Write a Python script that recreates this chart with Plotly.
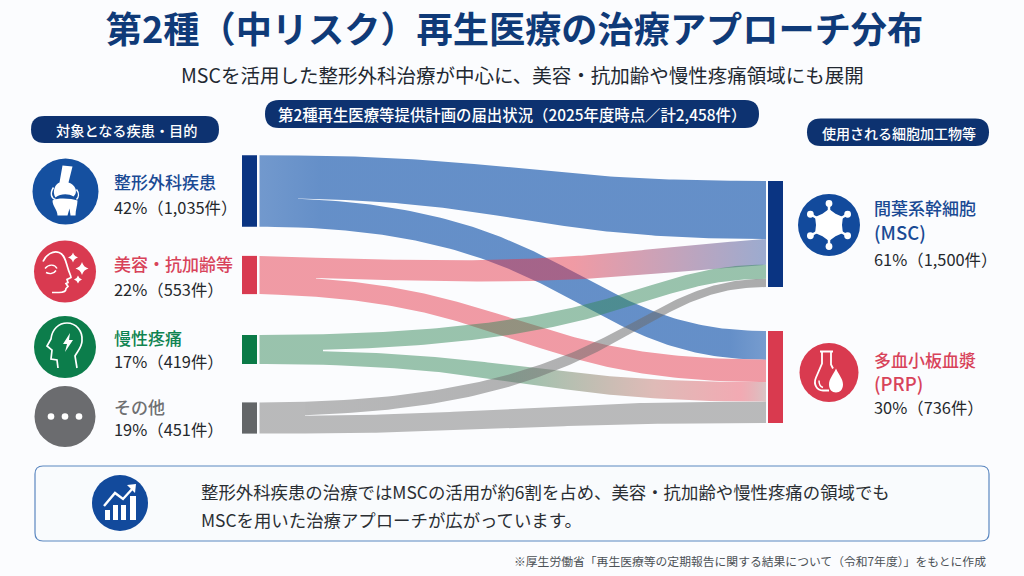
import math
import re
import plotly.graph_objects as go

FONT = "Noto Sans CJK JP"
NAVY = "#0d3270"

# ---- data ----
left_names = ["整形外科疾患", "美容・抗加齢等", "慢性疼痛", "その他"]
left_shares = [42, 22, 17, 19]
left_counts = [1035, 553, 419, 451]
right_names = [["間葉系幹細胞", "(MSC)"], ["多血小板血漿", "(PRP)"]]
right_shares = [61, 30]
right_counts = [1500, 736]

# Flows: share of each source column and of each target column, in filings.
flow_source = [0, 0, 1, 1, 2, 2, 3, 3]
flow_target = [0, 1, 0, 1, 0, 1, 0, 1]
flow_out = [621, 414, 290, 263, 224, 195, 195, 256]
flow_in = [820, 229, 365, 180, 200, 156, 115, 171]

left_bar_colors = ["#0a3482", "#d83a50", "#0a7a47", "#636668"]
right_bar_colors = ["#0a3482", "#d93a4f"]
left_text_colors = ["#1a4a94", "#d8435a", "#0f8350", "#6f7072"]
right_text_colors = ["#1a4a94", "#d8435a"]
circle_colors = ["#1550a0", "#d93a50", "#0c7d4b", "#6b6c6f"]

BLUE = "rgba(30,92,175,0.68)"
RED = "rgba(229,57,75,0.50)"
GREEN = "rgba(55,137,91,0.50)"
GREY = "rgba(119,119,119,0.50)"
MAUVE = "rgba(60,90,160,0.50)"
PINK = "rgba(229,57,75,0.42)"

# Gradient stops along each ribbon (fraction of the run, colour).
flow_fill = [
    [(0, "rgba(30,92,175,0.62)"), (0.12, BLUE), (1, BLUE)],
    [(0, "rgba(30,92,175,0.62)"), (0.12, BLUE), (0.93, BLUE), (1, "rgba(30,92,175,0.60)")],
    [(0, RED), (0.62, RED), (1, MAUVE)],
    [(0, RED), (1, RED)],
    [(0, GREEN), (1, GREEN)],
    [(0, GREEN), (0.5, GREEN), (0.78, "rgba(190,110,100,0.46)"), (0.95, PINK), (1, "rgba(190,150,150,0.55)")],
    [(0, GREY), (1, "rgba(105,105,105,0.55)")],
    [(0, GREY), (1, GREY)],
]
# Horizontal position of each curve's midpoint, and a vertical sag at its two handles.
flow_mid = [516, 560, 560, 516, 603, 520, 598, 512]
flow_sag = [(0, 0), (0, 0), (12, 14), (5, 0), (0, 0), (0, 0), (0, 0), (0, 0)]
# Where each source's two ribbons separate into distinct bands.
split_x = [298, 316, 323, 305]

# ---- layout constants ----
LEFT_SCALE = 170 / sum(left_counts)
RIGHT_SCALE = [106 / right_counts[0], 92 / right_counts[1]]
left_centers = [191, 275, 349.5, 418]
right_centers = [234, 377]
LEFT_BAR_X, RIGHT_BAR_X, BAR_W = 249.5, 775.5, 15
RIBBON_X0, RIBBON_X1 = 259.5, 766

left_h = [c * LEFT_SCALE for c in left_counts]
left_top = [c - h / 2 for c, h in zip(left_centers, left_h)]
right_h = [c * s for c, s in zip(right_counts, RIGHT_SCALE)]
right_top = [c - h / 2 for c, h in zip(right_centers, right_h)]


def ribbon_edge(y0, y1, xm, sag):
    """Sample a cubic Bezier edge between the two node columns."""
    xs, ys = [], []
    c1, c2 = y0 + sag[0], y1 + sag[1]
    for i in range(121):
        t = i / 120
        a, b, c, d = (1 - t) ** 3, 3 * (1 - t) ** 2 * t, 3 * (1 - t) * t ** 2, t ** 3
        xs.append(a * RIBBON_X0 + (b + c) * xm + d * RIBBON_X1)
        ys.append(a * y0 + b * c1 + c * c2 + d * y1)
    return xs, ys


def cut_edge(xs, ys, cut):
    """Divide a sampled edge at x = cut, returning the left and right runs."""
    for j in range(1, len(xs)):
        if xs[j] >= cut:
            f = (cut - xs[j - 1]) / (xs[j] - xs[j - 1])
            yc = ys[j - 1] + f * (ys[j] - ys[j - 1])
            return (xs[:j] + [cut], ys[:j] + [yc]), ([cut] + xs[j:], [yc] + ys[j:])
    return (xs, ys), ([], [])


def gradient(stops):
    return dict(type="horizontal", start=RIBBON_X0, stop=RIBBON_X1,
                colorscale=[[p, c] for p, c in stops])


def add_band(x, y, stops):
    fig.add_trace(go.Scatter(x=x, y=y, mode="lines", line=dict(width=0), fill="toself",
                             hoverinfo="skip", fillgradient=gradient(stops)))


fig = go.Figure()

# Node columns
fig.add_trace(go.Bar(x=[LEFT_BAR_X] * 4, y=left_h, base=left_top, width=BAR_W,
                     marker=dict(color=left_bar_colors, line_width=0), hoverinfo="skip"))
fig.add_trace(go.Bar(x=[RIGHT_BAR_X] * 2, y=right_h, base=right_top, width=BAR_W,
                     marker=dict(color=right_bar_colors, line_width=0), hoverinfo="skip"))

# Ribbons, stacked in order inside each node. Each source starts as one trunk
# and divides into its two bands at split_x.
out_pos = list(left_top)
in_pos = list(right_top)
trunk_top = {}
for i, (s, t) in enumerate(zip(flow_source, flow_target)):
    w0 = flow_out[i] * LEFT_SCALE
    w1 = flow_in[i] * RIGHT_SCALE[t]
    xm = (8 * flow_mid[i] - RIBBON_X0 - RIBBON_X1) / 6
    top = ribbon_edge(out_pos[s], in_pos[t], xm, flow_sag[i])
    bot = ribbon_edge(out_pos[s] + w0, in_pos[t] + w1, xm, flow_sag[i])
    top_l, top_r = cut_edge(*top, split_x[s])
    bot_l, bot_r = cut_edge(*bot, split_x[s])
    add_band(top_r[0] + bot_r[0][::-1], top_r[1] + bot_r[1][::-1], flow_fill[i])
    if s in trunk_top:
        upper = trunk_top[s]
        add_band(upper[0] + bot_l[0][::-1], upper[1] + bot_l[1][::-1], flow_fill[i])
    else:
        trunk_top[s] = top_l
    out_pos[s] += w0
    in_pos[t] += w1

shapes, notes = [], []


def text(x, y, s, size, color, anchor="left", weight=400):
    notes.append(dict(x=x, y=y, text=s, showarrow=False, xanchor=anchor, yanchor="middle",
                      xref="x", yref="y",
                      font=dict(family=FONT, size=size, color=color, weight=weight)))


def pill(x0, y0, x1, y1, r=None, fill=NAVY, line=None):
    r = (y1 - y0) / 2 if r is None else r
    d = (f"M {x0+r} {y0} L {x1-r} {y0} Q {x1} {y0} {x1} {y0+r} L {x1} {y1-r} "
         f"Q {x1} {y1} {x1-r} {y1} L {x0+r} {y1} Q {x0} {y1} {x0} {y1-r} "
         f"L {x0} {y0+r} Q {x0} {y0} {x0+r} {y0} Z")
    shapes.append(dict(type="path", path=d, fillcolor=fill, layer="below",
                       line=dict(color=line or fill, width=1.2 if line else 0)))


def disc(cx, cy, r, color):
    shapes.append(dict(type="circle", x0=cx - r, x1=cx + r, y0=cy - r, y1=cy + r,
                       fillcolor=color, line_width=0, layer="above"))


def glyph(cx, cy, d, fill=None, stroke=0.0):
    """Place a path written around (0, 0) at the given centre."""
    parts, is_x = [], True
    for tok in re.findall(r"[A-Za-z]|-?[\d.]+", d):
        if tok.isalpha():
            parts.append(tok)
            is_x = True
        else:
            parts.append(f"{float(tok) + (cx if is_x else cy):.2f}")
            is_x = not is_x
    shapes.append(dict(type="path", path=" ".join(parts), layer="above",
                       fillcolor=fill or "rgba(0,0,0,0)",
                       line=dict(color="white", width=stroke)))


def star(r, px, py):
    k = r * 0.22
    return (f"M {px} {py-r} Q {px+k} {py-k} {px+r} {py} Q {px+k} {py+k} {px} {py+r} "
            f"Q {px-k} {py+k} {px-r} {py} Q {px-k} {py-k} {px} {py-r} Z")


# Header
pill(265, 100, 759, 128)
pill(31, 116, 219, 143)
pill(807, 118.5, 989, 146)
text(511.5, 114, "第2種再生医療等提供計画の届出状況（2025年度時点／計2,458件）", 15.4, "white", "center", 500)
text(126, 129.5, "対象となる疾患・目的", 14.2, "white", "center", 500)
text(898.5, 132.5, "使用される細胞加工物等", 14, "white", "center", 500)
text(522, 74, "MSCを活用した整形外科治療が中心に、美容・抗加齢や慢性疼痛領域にも展開", 19.5, "#222831", "center")

# Left column icons
disc(65.5, 191.5, 33, circle_colors[0])
disc(65, 271.5, 31, circle_colors[1])
disc(65, 347, 31, circle_colors[2])
disc(65, 416.5, 30.5, circle_colors[3])
# knee joint
glyph(65.5, 191.5, "M -3 -26 L 7 -25 L 3 -9 C 10 -7 13 1 8 5 C 3 2 -5 2 -10 6 C -14 0 -10 -8 -6 -9 Z", "white")
glyph(65.5, 191.5, "M -13 9 C -8 6 6 7 12 9 C 12 14 10 18 10 24 L 5 24 L 4 17 L 2 24 L -8 24 C -8 18 -13 15 -13 9 Z", "white")
glyph(65.5, 191.5, "M -12 -4 C -16 2 -14 7 -10 8 M 11 -2 C 14 2 13 6 11 8", None, 1.5)
# face profile with sparkles
glyph(65, 271.5, "M -22 -10 C -19 -17 -12 -21 -6 -19 C 0 -17 1 -9 3 -3 C 4 1 6 4 6 6 L 2 8 L 3 11 L 1 12 L 3 15 L 1 17 C 1 21 -3 21 -6 21 L -13 21", None, 1.7)
glyph(65, 271.5, "M -20 -3 C -16 -8 -10 -7 -8 -3 M -19 1 C -15 3 -11 2 -9 -1", None, 1.4)
glyph(65, 271.5, star(5, 8, -14) + " " + star(6.5, 17, -3) + " " + star(4, 13, 8), "white")
# head with bolt
glyph(65, 347, "M -7 21 L -8 13 L -14 12 L -13 3 L -18 -1 L -14 -8 C -13 -18 -6 -24 2 -24 C 11 -24 18 -16 17 -6 C 17 0 12 5 10 9 L 12 21", None, 1.7)
glyph(65, 347, "M 5 -14 L -2 -3 L 2 -3 L 0 5 L 8 -7 L 4 -7 Z", "white")
# three dots
for dx in (-14, 0, 14):
    r = 3.3
    shapes.append(dict(type="circle", x0=65 + dx - r, x1=65 + dx + r, y0=416.5 - r, y1=416.5 + r,
                       fillcolor="white", line_width=0, layer="above"))

# Left column labels
label_y = [(181, 207), (263, 289), (337, 361), (406, 429)]
for name, share, count, col, (y1, y2) in zip(left_names, left_shares, left_counts, left_text_colors, label_y):
    text(112, y1, name, 17, col, weight=500)
    text(112, y2, f"{share}%（{count:,}件）", 16.4, "#25282c")

# Right column icons
disc(829, 225, 31, "#124a9c")
disc(829, 372.5, 29.5, right_bar_colors[1])
# stem cell: concave hexagon with six spokes
pts = []
for k in range(6):
    a = math.radians(90 + 60 * k)
    b = math.radians(120 + 60 * k)
    x1, y1 = 16 * math.cos(a), 16 * math.sin(a)
    x2, y2 = 13 * math.cos(b), 13 * math.sin(b)
    pts.append(("L" if k else "M") + f" {x1:.1f} {y1:.1f} L {x2:.1f} {y2:.1f}")
glyph(829, 225, " ".join(pts) + " Z", "white")
for k in range(6):
    a = math.radians(90 + 60 * k)
    x, y = 829 + 21.5 * math.cos(a), 225 + 21.5 * math.sin(a)
    shapes.append(dict(type="line", x0=829 + 12 * math.cos(a), y0=225 + 12 * math.sin(a), x1=x, y1=y,
                       line=dict(color="white", width=2.5), layer="above"))
    shapes.append(dict(type="circle", x0=x - 3.4, x1=x + 3.4, y0=y - 3.4, y1=y + 3.4,
                       fillcolor="white", line_width=0, layer="above"))
# flask with a drop
glyph(829, 372.5, "M -9 -21 L 4 -21 M -7 -21 L -7 -9 L -13 5 C -16 12 -12 18 -6 18 L 0 18 M 2 -21 L 2 -8 L 4 -4", None, 1.8)
glyph(829, 372.5, "M -10 8 C -10 12 -9 14 -6 15", None, 1.5)
glyph(829, 372.5, "M 7 -4 C 10 3 14 6 14 12 C 14 17 11 20 7 20 C 3 20 0 17 0 12 C 0 6 4 3 7 -4 Z", "white")

# Right column labels
right_y = [(207, 232, 259), (359, 383, 407)]
for (n1, n2), share, count, col, (y1, y2, y3) in zip(right_names, right_shares, right_counts, right_text_colors, right_y):
    text(871.5, y1, n1, 17, col, weight=500)
    text(871.5, y2, n2, 18.5, col, weight=500)
    text(871.5, y3, f"{share}%（{count:,}件）", 16.4, "#25282c")

# Takeaway panel
pill(35, 466, 989, 541, r=8, fill="#f9fbfd", line="#5b87c0")
disc(120, 503, 28, "#124a9c")
for x0, x1, top in ((-15, -10, 7), (-7, -2, 2), (1, 6, 2), (10, 16, -7)):
    glyph(120, 503, f"M {x0} {top} L {x1} {top} L {x1} 17 L {x0} 17 Z", "white")
glyph(120, 503, "M -16 3 L -5 -10 L 3 -4 L 14 -16", None, 2.4)
glyph(120, 503, "M 7 -18 L 16 -19 L 15 -10 Z", "white")
text(198.5, 491, "整形外科疾患の治療ではMSCの活用が約6割を占め、美容・抗加齢や慢性疼痛の領域でも", 17.4, "#2a2e33")
text(198.5, 519, "MSCを用いた治療アプローチが広がっています。", 17.4, "#2a2e33")
text(988, 560, "※厚生労働省「再生医療等の定期報告に関する結果について（令和7年度）」をもとに作成", 11.8, "#4c5156", "right")

fig.update_layout(
    width=1024, height=576, margin=dict(l=0, r=0, t=0, b=0),
    paper_bgcolor="#fbfcfe", plot_bgcolor="rgba(0,0,0,0)",
    showlegend=False, barmode="overlay", hovermode=False,
    xaxis=dict(range=[0, 1024], visible=False, fixedrange=True),
    yaxis=dict(range=[576, 0], visible=False, fixedrange=True),
    title=dict(text="第2種（中リスク）再生医療の治療アプローチ分布",
               x=514.5 / 1024, xanchor="center", y=1 - 30 / 576, yanchor="middle",
               font=dict(family=FONT, size=36.2, color="#0f3a78", weight=700)),
    shapes=shapes, annotations=notes,
)
fig.write_html("out.html")
